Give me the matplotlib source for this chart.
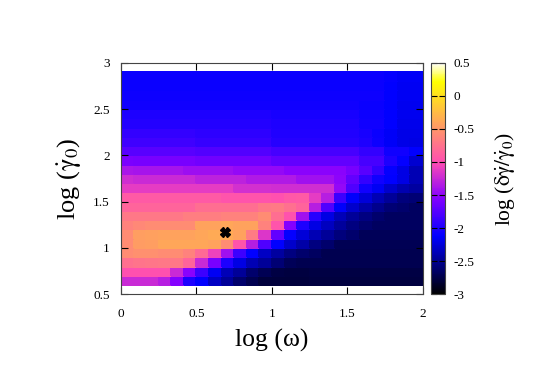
import numpy as np
import matplotlib
matplotlib.use('Agg')
import matplotlib.pyplot as plt
from matplotlib.colors import LinearSegmentedColormap

# grid edges: log(omega) and log(gamma_dot_0)
log_omega = np.linspace(0, 2, 25)
log_rate = np.linspace(0.6, 2.9, 24)

# log(delta gamma_dot / gamma_dot_0), rows from log_rate = 2.85 down to 0.65
dev = [
    [-2.08, -2.08, -2.08, -2.08, -2.08, -2.08, -2.08, -2.08, -2.08, -2.08, -2.08, -2.08, -2.08, -2.08, -2.08, -2.08, -2.08, -2.08, -2.08, -2.08, -2.08, -2.10, -2.15, -2.15],
    [-2.08, -2.08, -2.08, -2.08, -2.08, -2.08, -2.08, -2.08, -2.08, -2.08, -2.08, -2.08, -2.08, -2.08, -2.08, -2.08, -2.08, -2.08, -2.08, -2.08, -2.08, -2.12, -2.16, -2.16],
    [-2.07, -2.07, -2.07, -2.07, -2.07, -2.07, -2.07, -2.07, -2.07, -2.07, -2.07, -2.07, -2.07, -2.07, -2.07, -2.07, -2.07, -2.07, -2.07, -2.07, -2.07, -2.12, -2.16, -2.16],
    [-2.05, -2.05, -2.05, -2.05, -2.05, -2.05, -2.05, -2.05, -2.05, -2.05, -2.05, -2.05, -2.05, -2.05, -2.05, -2.05, -2.05, -2.05, -2.05, -2.08, -2.08, -2.12, -2.17, -2.17],
    [-2.00, -2.00, -2.00, -2.00, -2.00, -2.00, -2.00, -2.00, -2.00, -2.00, -2.00, -2.00, -2.02, -2.02, -2.02, -2.02, -2.02, -2.02, -2.02, -2.06, -2.06, -2.12, -2.17, -2.17],
    [-1.97, -1.97, -1.97, -1.97, -1.97, -1.97, -1.97, -1.97, -1.97, -1.97, -1.97, -1.97, -2.00, -2.00, -2.00, -2.00, -2.00, -2.00, -2.00, -2.05, -2.05, -2.12, -2.18, -2.18],
    [-1.90, -1.90, -1.90, -1.90, -1.90, -1.90, -1.93, -1.93, -1.93, -1.93, -1.93, -1.93, -1.98, -1.98, -1.98, -1.98, -1.98, -1.98, -1.98, -2.02, -2.08, -2.15, -2.20, -2.20],
    [-1.85, -1.85, -1.85, -1.85, -1.85, -1.85, -1.88, -1.88, -1.88, -1.88, -1.88, -1.88, -1.95, -1.95, -1.95, -1.95, -1.95, -1.95, -1.95, -2.00, -2.07, -2.15, -2.20, -2.22],
    [-1.73, -1.73, -1.73, -1.73, -1.73, -1.73, -1.76, -1.76, -1.76, -1.76, -1.76, -1.76, -1.82, -1.82, -1.82, -1.82, -1.82, -1.82, -1.82, -1.90, -1.90, -2.05, -2.05, -2.12],
    [-1.58, -1.60, -1.60, -1.60, -1.60, -1.60, -1.63, -1.63, -1.63, -1.63, -1.63, -1.63, -1.70, -1.70, -1.70, -1.70, -1.70, -1.70, -1.70, -1.82, -1.82, -2.00, -2.10, -2.28],
    [-1.38, -1.40, -1.40, -1.40, -1.40, -1.43, -1.43, -1.43, -1.43, -1.47, -1.47, -1.47, -1.47, -1.52, -1.52, -1.52, -1.52, -1.52, -1.60, -1.73, -1.90, -2.10, -2.21, -2.38],
    [-1.22, -1.25, -1.25, -1.25, -1.25, -1.25, -1.30, -1.30, -1.30, -1.30, -1.35, -1.35, -1.35, -1.35, -1.42, -1.42, -1.42, -1.50, -1.70, -1.90, -2.05, -2.12, -2.22, -2.38],
    [-1.12, -1.12, -1.12, -1.12, -1.12, -1.12, -1.12, -1.12, -1.12, -1.20, -1.20, -1.20, -1.22, -1.22, -1.22, -1.22, -1.22, -1.47, -1.78, -2.05, -2.16, -2.29, -2.39, -2.45],
    [-0.91, -0.91, -0.91, -0.91, -0.91, -0.91, -0.91, -0.91, -0.95, -0.95, -0.95, -0.95, -0.98, -0.93, -0.91, -1.12, -1.33, -1.86, -2.13, -2.25, -2.38, -2.48, -2.57, -2.59],
    [-0.84, -0.84, -0.84, -0.84, -0.84, -0.84, -0.78, -0.78, -0.78, -0.78, -0.78, -0.71, -0.70, -0.76, -0.84, -1.33, -1.78, -2.13, -2.29, -2.42, -2.52, -2.59, -2.62, -2.66],
    [-0.71, -0.71, -0.71, -0.71, -0.71, -0.67, -0.67, -0.67, -0.64, -0.64, -0.64, -0.57, -0.78, -0.97, -1.42, -1.95, -2.21, -2.36, -2.47, -2.55, -2.62, -2.66, -2.66, -2.66],
    [-0.64, -0.60, -0.58, -0.57, -0.57, -0.57, -0.42, -0.42, -0.40, -0.42, -0.42, -0.64, -0.95, -1.55, -2.00, -2.21, -2.34, -2.46, -2.55, -2.62, -2.67, -2.67, -2.67, -2.67],
    [-0.57, -0.45, -0.43, -0.42, -0.42, -0.42, -0.40, -0.37, -0.37, -0.42, -0.68, -1.16, -1.69, -2.10, -2.25, -2.38, -2.48, -2.57, -2.62, -2.69, -2.69, -2.69, -2.69, -2.69],
    [-0.57, -0.47, -0.45, -0.40, -0.40, -0.40, -0.40, -0.42, -0.57, -0.95, -1.33, -1.78, -2.12, -2.29, -2.42, -2.55, -2.62, -2.70, -2.70, -2.70, -2.70, -2.70, -2.70, -2.70],
    [-0.57, -0.55, -0.55, -0.57, -0.57, -0.64, -0.80, -1.08, -1.42, -1.86, -2.12, -2.32, -2.45, -2.55, -2.62, -2.66, -2.72, -2.72, -2.72, -2.72, -2.72, -2.72, -2.72, -2.72],
    [-0.76, -0.74, -0.72, -0.71, -0.71, -0.84, -1.25, -1.60, -1.99, -2.21, -2.38, -2.48, -2.59, -2.69, -2.72, -2.72, -2.72, -2.72, -2.72, -2.72, -2.72, -2.72, -2.72, -2.72],
    [-0.98, -0.98, -0.98, -0.98, -1.25, -1.51, -1.86, -2.16, -2.36, -2.48, -2.62, -2.70, -2.76, -2.78, -2.78, -2.76, -2.76, -2.76, -2.76, -2.76, -2.76, -2.76, -2.76, -2.76],
    [-1.25, -1.25, -1.25, -1.33, -1.55, -1.99, -2.12, -2.32, -2.48, -2.62, -2.72, -2.79, -2.79, -2.79, -2.79, -2.78, -2.78, -2.78, -2.78, -2.78, -2.78, -2.78, -2.78, -2.78],
]

# marked point
mark_omega = [0.69]
mark_rate = [1.17]

cbar_ticks = [-3, -2.5, -2, -1.5, -1, -0.5, 0, 0.5]

# gnuplot palette rgbformulae 30,31,32
cmap = LinearSegmentedColormap('g303132', {
    'red':   [(0, 0, 0), (0.25, 0, 0), (0.57, 1, 1), (1, 1, 1)],
    'green': [(0, 0, 0), (0.42, 0, 0), (0.92, 1, 1), (1, 1, 1)],
    'blue':  [(0, 0, 0), (0.25, 1, 1), (0.42, 1, 1), (0.92, 0, 0), (1, 1, 1)],
})

plt.rcParams['font.family'] = ['Liberation Serif', 'DejaVu Serif']
plt.rcParams['mathtext.fontset'] = 'stix'

z = np.flipud(np.array(dev))

fig = plt.figure(figsize=(5.45, 3.71), dpi=100)
ax = fig.add_axes([0.222, 0.2067, 0.554, 0.6243])
mesh = ax.pcolormesh(log_omega, log_rate, z, cmap=cmap, vmin=-3, vmax=0.5,
                     shading='flat', edgecolors='face', linewidth=0.2)
ax.plot(mark_omega, mark_rate, 'X', color='black', ms=6.5, mec='black')

ax.set_xlim(0, 2)
ax.set_ylim(0.5, 3)
ax.set_xticks([0, 0.5, 1, 1.5, 2])
ax.set_yticks([0.5, 1, 1.5, 2, 2.5, 3])
ax.xaxis.set_major_formatter(plt.FormatStrFormatter('%g'))
ax.yaxis.set_major_formatter(plt.FormatStrFormatter('%g'))
ax.tick_params(direction='in', top=True, right=True, length=5, width=0.8,
               labelsize=9.5)
ax.tick_params(axis='x', pad=10)
ax.tick_params(axis='y', pad=8)
for s in ax.spines.values():
    s.set_linewidth(0.8)
    s.set_color('#444444')

ax.set_xlabel('log (ω)', fontsize=18.5, labelpad=6)
ax.set_ylabel(r'log ($\dot{\mathrm{\gamma}}_0$)', fontsize=19, labelpad=7)

cax = fig.add_axes([0.791, 0.2067, 0.026, 0.6243])
cb = fig.colorbar(mesh, cax=cax, ticks=cbar_ticks)
cb.ax.yaxis.set_major_formatter(plt.FormatStrFormatter('%g'))
cb.ax.tick_params(direction='in', left=True, right=True, length=4, width=0.8,
                  labelsize=9.5, pad=6)
cb.outline.set_linewidth(0.8)
cb.outline.set_edgecolor('#444444')
cb.set_label(r'log ($\mathrm{\delta}\dot{\mathrm{\gamma}}/\dot{\mathrm{\gamma}}_0$)',
             fontsize=15.5, labelpad=13)

fig.savefig('out.png', dpi=100)
